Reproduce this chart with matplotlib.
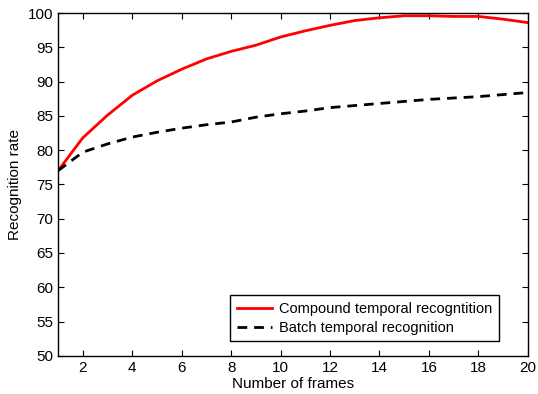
import matplotlib
matplotlib.use('Agg')
import matplotlib.pyplot as plt

plt.rcParams['font.family'] = ['Liberation Sans', 'DejaVu Sans']

frames = list(range(1, 21))
compound = [77.0, 81.8, 85.1, 88.0, 90.1, 91.8, 93.3, 94.4, 95.3, 96.5,
            97.4, 98.2, 98.9, 99.3, 99.6, 99.6, 99.5, 99.5, 99.1, 98.6]
batch = [77.0, 79.7, 80.9, 81.9, 82.6, 83.2, 83.7, 84.1, 84.8, 85.3,
         85.7, 86.2, 86.5, 86.8, 87.1, 87.4, 87.6, 87.8, 88.1, 88.4]

fig = plt.figure(figsize=(5.38, 3.94), dpi=100)
ax = fig.add_axes([0.108, 0.097, 0.873, 0.870])
ax.plot(frames, compound, color='red', linewidth=2, label='Compound temporal recogntition')
ax.plot(frames, batch, color='black', linewidth=2, linestyle=(0, (3.5, 2.5)), label='Batch temporal recognition')

ax.set_xlim(1, 20)
ax.set_ylim(50, 100)
ax.set_xticks(range(2, 21, 2))
ax.set_yticks(range(50, 101, 5))
ax.tick_params(direction='in', top=True, right=True, labelsize=11, length=4)
ax.set_xlabel('Number of frames', fontsize=11, labelpad=2)
ax.set_ylabel('Recognition rate', fontsize=11, labelpad=4)
for s in ax.spines.values():
    s.set_linewidth(1)

leg = ax.legend(loc='lower right', bbox_to_anchor=(0.938, 0.042), fontsize=10.5,
                fancybox=False, edgecolor='black', framealpha=1, borderaxespad=0,
                handlelength=2.4, handletextpad=0.5, labelspacing=0.35, borderpad=0.45)
leg.get_frame().set_linewidth(1)

fig.savefig('out.png', dpi=100)
